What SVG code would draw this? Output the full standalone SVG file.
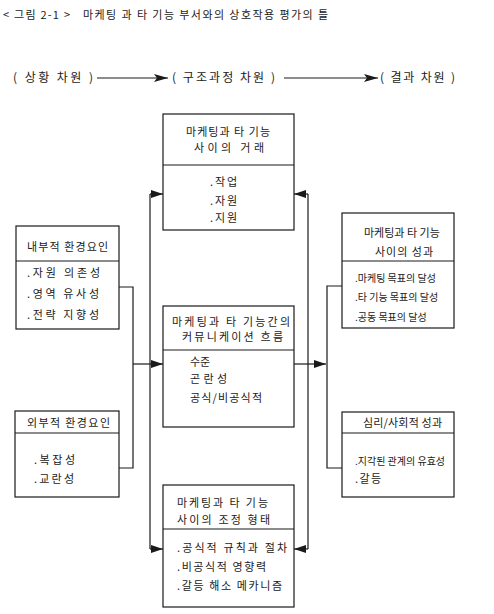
<svg xmlns="http://www.w3.org/2000/svg" width="494" height="614" viewBox="0 0 494 614">
<style>
text{font-family:"Noto Sans CJK KR","Noto Sans",sans-serif;font-size:11px;fill:#1a1a1a}
.h{font-size:12px}
.s{font-size:10px}
.box{fill:#fff;stroke:#1a1a1a;stroke-width:1.2}
.div{stroke:#1a1a1a;stroke-width:1.1}
.ln{fill:none;stroke:#1a1a1a;stroke-width:1.2}
</style>
<defs>
<marker id="ah" markerUnits="userSpaceOnUse" markerWidth="12" markerHeight="8" refX="12" refY="4" orient="auto">
<path d="M0,0 L12,4 L0,8 z" fill="#1a1a1a"/>
</marker>
<marker id="ahl" markerUnits="userSpaceOnUse" markerWidth="14" markerHeight="8" refX="14" refY="4" orient="auto">
<path d="M0,0 L14,4 L0,8 L3,4 z" fill="#1a1a1a"/>
</marker>
</defs>
<g id="title">
<text x="3" y="19" textLength="67" lengthAdjust="spacing">&lt; 그림 2-1 &gt;</text>
<text x="83" y="19" textLength="245" lengthAdjust="spacing">마케팅 과 타 기능 부서와의 상호작용 평가의 틀</text>
</g>
<g id="header">
<text class="h" x="13" y="82" textLength="80" lengthAdjust="spacing">( 상황 차원 )</text>
<text class="h" x="172" y="82" textLength="103" lengthAdjust="spacing">( 구조과정 차원 )</text>
<text class="h" x="380" y="82" textLength="75" lengthAdjust="spacing">( 결과 차원 )</text>
</g>
<g id="connectors">
<path class="ln" d="M97,78 H168" marker-end="url(#ahl)"/>
<path class="ln" d="M284,78 H378" marker-end="url(#ahl)"/>
<path class="ln" d="M119,287 H133 V468 H119"/>
<path class="ln" d="M133,364 H163" marker-end="url(#ah)"/>
<path class="ln" d="M150,194 V549"/>
<path class="ln" d="M150,194 H163" marker-end="url(#ah)"/>
<path class="ln" d="M150,549 H163" marker-end="url(#ah)"/>
<path class="ln" d="M308,194 V549"/>
<path class="ln" d="M308,194 H294" marker-end="url(#ah)"/>
<path class="ln" d="M308,549 H294" marker-end="url(#ah)"/>
<path class="ln" d="M294,364 H326" marker-end="url(#ah)"/>
<path class="ln" d="M342,286 H327 V468 H342"/>
</g>
<g id="n-transaction">
<rect class="box" x="163" y="114" width="131" height="116"/>
<line class="div" x1="163" y1="165" x2="294" y2="165"/>
<text x="186" y="136" textLength="84" lengthAdjust="spacing">마케팅과 타 기능</text>
<text x="194" y="152" textLength="70" lengthAdjust="spacing">사이의 거래</text>
<text x="210" y="186" textLength="27" lengthAdjust="spacing">.작업</text>
<text x="210" y="205" textLength="27" lengthAdjust="spacing">.자원</text>
<text x="210" y="222" textLength="27" lengthAdjust="spacing">.지원</text>
</g>
<g id="n-internal">
<rect class="box" x="16" y="226" width="103" height="103"/>
<line class="div" x1="16" y1="261" x2="119" y2="261"/>
<text x="27" y="251" textLength="81" lengthAdjust="spacing">내부적 환경요인</text>
<text x="27" y="277" textLength="73" lengthAdjust="spacing">.자원 의존성</text>
<text x="27" y="298" textLength="72" lengthAdjust="spacing">.영역 유사성</text>
<text x="27" y="319" textLength="72" lengthAdjust="spacing">.전략 지향성</text>
</g>
<g id="n-external">
<rect class="box" x="15" y="411" width="104" height="86"/>
<line class="div" x1="15" y1="433" x2="119" y2="433"/>
<text x="27" y="427" textLength="83" lengthAdjust="spacing">외부적 환경요인</text>
<text x="34" y="464" textLength="41" lengthAdjust="spacing">.복잡성</text>
<text x="34" y="483" textLength="40" lengthAdjust="spacing">.교란성</text>
</g>
<g id="n-communication">
<rect class="box" x="163" y="306" width="131" height="121"/>
<line class="div" x1="163" y1="350" x2="294" y2="350"/>
<text x="172" y="326" textLength="118" lengthAdjust="spacing">마케팅과 타 기능간의</text>
<text x="182" y="341" textLength="101" lengthAdjust="spacing">커뮤니케이션 흐름</text>
<text x="190" y="366">수준</text>
<text x="190" y="383" textLength="37" lengthAdjust="spacing">곤란성</text>
<text x="190" y="402" textLength="72" lengthAdjust="spacing">공식/비공식적</text>
</g>
<g id="n-coordination">
<rect class="box" x="163" y="485" width="131" height="122"/>
<line class="div" x1="163" y1="529" x2="294" y2="529"/>
<text x="177" y="507" textLength="91" lengthAdjust="spacing">마케팅과 타 기능</text>
<text x="177" y="524" textLength="93" lengthAdjust="spacing">사이의 조정 형태</text>
<text x="177" y="552" textLength="110" lengthAdjust="spacing">.공식적 규칙과 절차</text>
<text x="177" y="571" textLength="89" lengthAdjust="spacing">.비공식적 영향력</text>
<text x="177" y="590" textLength="105" lengthAdjust="spacing">.갈등 해소 메카니즘</text>
</g>
<g id="n-performance">
<rect class="box" x="342" y="213" width="112" height="115"/>
<line class="div" x1="342" y1="261" x2="454" y2="261"/>
<text x="364" y="237">마케팅과 타 기능</text>
<text x="375" y="256" textLength="58" lengthAdjust="spacing">사이의 성과</text>
<text class="s" x="355" y="282">.마케팅 목표의 달성</text>
<text class="s" x="355" y="301">.타 기능 목표의 달성</text>
<text class="s" x="355" y="321">.공동 목표의 달성</text>
</g>
<g id="n-psychosocial">
<rect class="box" x="342" y="412" width="112" height="85"/>
<line class="div" x1="342" y1="433" x2="454" y2="433"/>
<text x="363" y="427" textLength="79" lengthAdjust="spacing">심리/사회적 성과</text>
<text class="s" x="355" y="465">.지각된 관계의 유효성</text>
<text x="355" y="483" textLength="26" lengthAdjust="spacing">.갈등</text>
</g>
</svg>
